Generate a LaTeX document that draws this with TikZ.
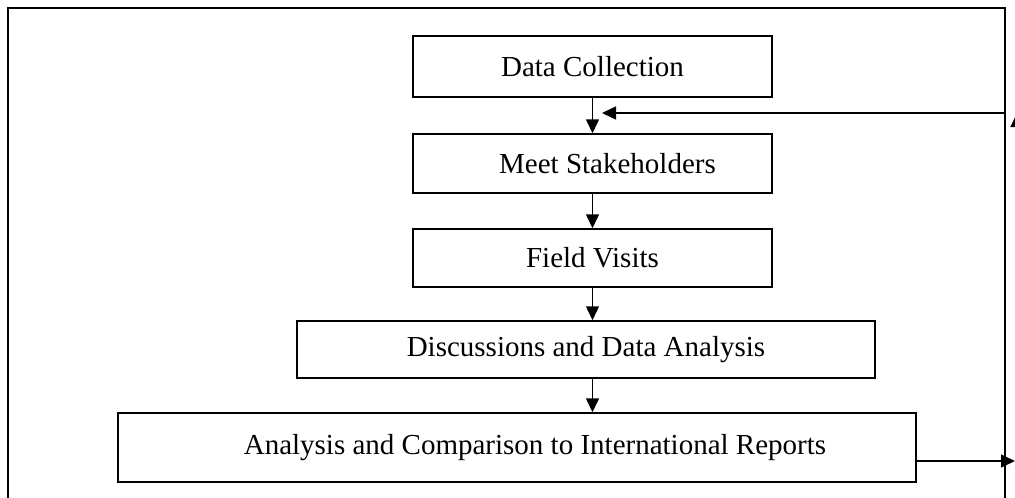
\documentclass[tikz,border=0pt]{standalone}
\usepackage{fontspec}
\setmainfont{Liberation Serif}
\usetikzlibrary{arrows.meta}
\begin{document}
\begin{tikzpicture}[x=1pt,y=-1pt,
  box/.style={draw, line width=1.5pt, rectangle, inner sep=0pt, font=\fontsize{29}{33}\selectfont},
  arr/.style={line width=1.5pt, -{Triangle[length=14pt,width=13pt]}},
  frameline/.style={line width=2.2pt}]
\useasboundingbox (0,0) rectangle (1015,498);
\clip (0,0) rectangle (1015,498);
% outer frame
\draw[frameline] (8,505) -- (8,8) -- (1005,8) -- (1005,505);
% boxes
\node[box, minimum width=359pt, minimum height=61pt] (b1) at (592.5,66.5) {Data Collection};
\node[box, minimum width=359pt, minimum height=59pt] (b2) at (592.5,163.5) {\hspace*{30pt}Meet Stakeholders};
\node[box, minimum width=359pt, minimum height=58pt] (b3) at (592.5,258) {Field Visits};
\node[box, minimum width=578pt, minimum height=57pt] (b4) at (586,349.5) {Discussions and Data Analysis};
\node[box, minimum width=798pt, minimum height=69pt] (b5) at (517,447.5) {\hspace*{36pt}Analysis and Comparison to International Reports};
% vertical arrows
\draw[arr] (b1.south) -- (b2.north);
\draw[arr] (b2.south) -- (b3.north);
\draw[arr] (b3.south) -- (b3.south |- b4.north);
\draw[arr] (b3.south |- b4.south) -- (b3.south |- b5.north);
% feedback loop
\coordinate (rb) at (1015,461);
\coordinate (ub) at (1017,461);
\coordinate (ut) at (1017,113);
\coordinate (fs) at (1005,113);
\coordinate (fe) at (602,113);
\draw[arr] ([yshift=-13.5pt]b5.east) -- (rb);
\draw[arr] (ub) -- (ut);
\draw[arr] (fs) -- (fe);
\end{tikzpicture}
\end{document}
